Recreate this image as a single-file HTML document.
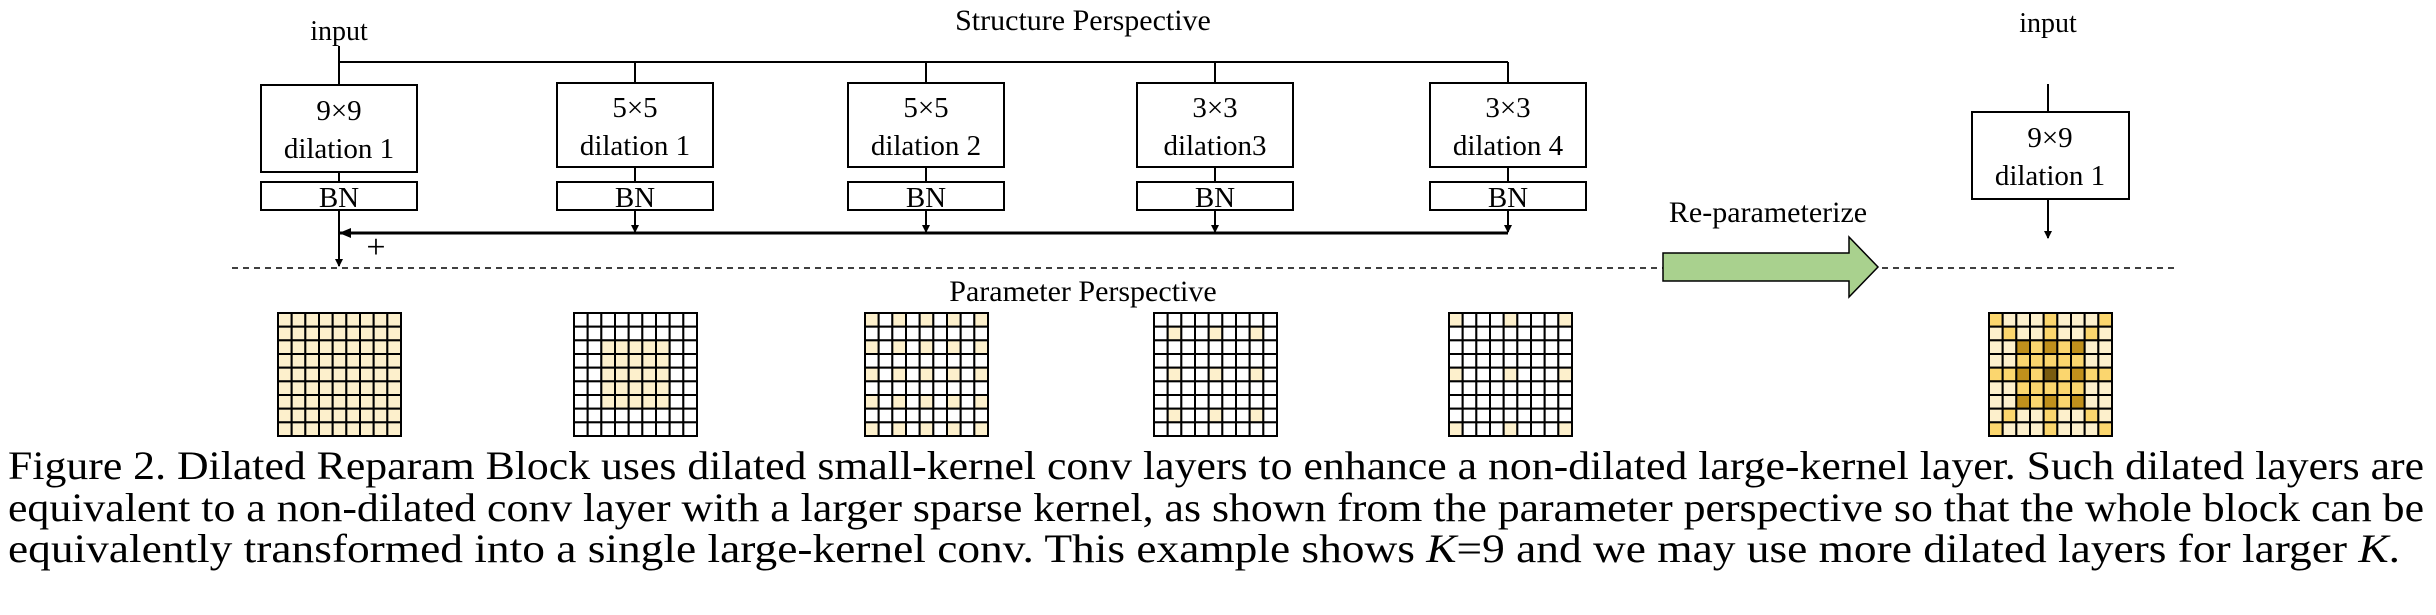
<!DOCTYPE html>
<html><head><meta charset="utf-8"><style>
body{margin:0;width:2436px;height:615px;background:#fff;position:relative;overflow:hidden;font-family:"Liberation Serif",serif}
svg{position:absolute;left:0;top:0}
</style></head><body>
<svg width="2436" height="615" viewBox="0 0 2436 615" font-family="Liberation Serif, serif">
<defs><marker id="a" markerWidth="8" markerHeight="8" refX="7" refY="4" orient="auto" markerUnits="userSpaceOnUse"><path d="M0,0L8,4L0,8z" fill="#000"/></marker>
<marker id="b" markerWidth="12" markerHeight="10" refX="11" refY="5" orient="auto" markerUnits="userSpaceOnUse"><path d="M0,0L12,5L0,10z" fill="#000"/></marker></defs>
<g stroke="#000" stroke-width="2" fill="none">
<text x="1083" y="30" font-size="30" fill="#000" stroke="none" text-anchor="middle">Structure Perspective</text>
<text x="339" y="40" font-size="28" fill="#000" stroke="none" text-anchor="middle">input</text>
<line x1="339" y1="46" x2="339" y2="85"/>
<line x1="339" y1="62" x2="1508" y2="62"/>
<line x1="635" y1="62" x2="635" y2="83"/><line x1="926" y1="62" x2="926" y2="83"/><line x1="1215" y1="62" x2="1215" y2="83"/><line x1="1508" y1="62" x2="1508" y2="83"/>
<rect x="261" y="85" width="156" height="87"/>
<rect x="557" y="83" width="156" height="84"/>
<rect x="848" y="83" width="156" height="84"/>
<rect x="1137" y="83" width="156" height="84"/>
<rect x="1430" y="83" width="156" height="84"/>
<line x1="339" y1="172" x2="339" y2="182"/><line x1="635" y1="167" x2="635" y2="182"/><line x1="926" y1="167" x2="926" y2="182"/><line x1="1215" y1="167" x2="1215" y2="182"/><line x1="1508" y1="167" x2="1508" y2="182"/>
<rect x="261" y="182" width="156" height="28"/><rect x="557" y="182" width="156" height="28"/><rect x="848" y="182" width="156" height="28"/><rect x="1137" y="182" width="156" height="28"/><rect x="1430" y="182" width="156" height="28"/>
<line x1="635" y1="210" x2="635" y2="232" marker-end="url(#a)"/><line x1="926" y1="210" x2="926" y2="232" marker-end="url(#a)"/><line x1="1215" y1="210" x2="1215" y2="232" marker-end="url(#a)"/><line x1="1508" y1="210" x2="1508" y2="232" marker-end="url(#a)"/>
<line x1="1508" y1="233" x2="340" y2="233" stroke-width="3" marker-end="url(#b)"/>
<line x1="339" y1="210" x2="339" y2="266" marker-end="url(#a)"/>
<line x1="2048" y1="84" x2="2048" y2="112"/>
<rect x="1972" y="112" width="157" height="87"/>
<line x1="2048" y1="199" x2="2048" y2="238" marker-end="url(#a)"/>
<line x1="232" y1="268" x2="2178" y2="268" stroke-width="1.5" stroke-dasharray="6,5"/>
<path d="M1663,253H1849V237L1878,267L1849,297V281H1663Z" fill="#a9d18e" stroke-width="1.5"/>
</g>
<g font-size="29" text-anchor="middle" fill="#000">
<text x="339" y="120">9×9</text><text x="339" y="158">dilation 1</text>
<text x="635" y="117">5×5</text><text x="635" y="155">dilation 1</text>
<text x="926" y="117">5×5</text><text x="926" y="155">dilation 2</text>
<text x="1215" y="117">3×3</text><text x="1215" y="155">dilation3</text>
<text x="1508" y="117">3×3</text><text x="1508" y="155">dilation 4</text>
<text x="339" y="207">BN</text><text x="635" y="207">BN</text><text x="926" y="207">BN</text><text x="1215" y="207">BN</text><text x="1508" y="207">BN</text>
<text x="2048" y="32" font-size="28">input</text>
<text x="2050" y="147">9×9</text><text x="2050" y="185">dilation 1</text>
<text x="1768" y="222" font-size="30">Re-parameterize</text>
<text x="1083" y="301" font-size="30">Parameter Perspective</text>
<text x="376" y="258" font-size="34">+</text>
</g>
<g id="grids"></g>
<g font-size="40" fill="#000">
<text x="8" y="479" textLength="2416" lengthAdjust="spacingAndGlyphs">Figure 2. Dilated Reparam Block uses dilated small-kernel conv layers to enhance a non-dilated large-kernel layer. Such dilated layers are</text>
<text x="8" y="521" textLength="2416" lengthAdjust="spacingAndGlyphs">equivalent to a non-dilated conv layer with a larger sparse kernel, as shown from the parameter perspective so that the whole block can be</text>
<text x="8" y="562" textLength="2392" lengthAdjust="spacingAndGlyphs">equivalently transformed into a single large-kernel conv. This example shows <tspan font-style="italic">K</tspan>=9 and we may use more dilated layers for larger <tspan font-style="italic">K</tspan>.</text>
</g>
</svg>
<script>
var g=document.getElementById('grids'),W=123/9,H=123/9;
var L='#fdf0cc',Y='#fbd66e',D='#c0901c',X='#7a5c10',N='#fff';
function grid(x0,f){for(var r=0;r<9;r++)for(var c=0;c<9;c++){var e=document.createElementNS('http://www.w3.org/2000/svg','rect');e.setAttribute('x',x0+c*W);e.setAttribute('y',313+r*H);e.setAttribute('width',W);e.setAttribute('height',H);e.setAttribute('fill',f(r,c));e.setAttribute('stroke','#000');e.setAttribute('stroke-width','2');g.appendChild(e);}}
grid(278,function(){return L});
grid(574,function(r,c){return r>=2&&r<=6&&c>=2&&c<=6?L:N});
grid(865,function(r,c){return r%2==0&&c%2==0?L:N});
grid(1154,function(r,c){return r%3==1&&c%3==1?L:N});
grid(1449,function(r,c){return r%4==0&&c%4==0?L:N});
var P=["YLLLYLLLY","LYLLYLLYL","LLDYDYDLL","LLYYYYYLL","YYDYXYDYY","LLYYYYYLL","LLDYDYDLL","LYLLYLLYL","YLLLYLLLY"],M={L:L,Y:Y,D:D,X:X};
grid(1989,function(r,c){return M[P[r][c]]});
</script>
</body></html>
